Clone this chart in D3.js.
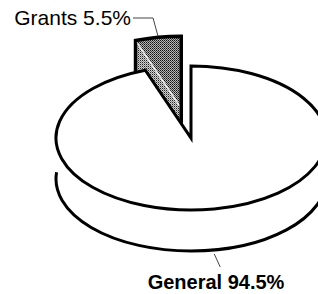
<!DOCTYPE html>
<html>
<head>
<meta charset="utf-8">
<script src="https://cdn.jsdelivr.net/npm/d3@7"></script>
<style>
  body { margin: 0; background: #fff; }
  svg { display: block; }
  text { font-family: "Liberation Sans", Arial, sans-serif; fill: #000; }
</style>
</head>
<body>
<svg></svg>
<script>
// data
var categories = ["Grants", "General"];
var shares = [5.5, 94.5];
var labels = ["Grants 5.5%", "General 94.5%"];

var svgW = 318, svgH = 294;
var svg = d3.select("svg").attr("width", svgW).attr("height", svgH);

// pie geometry (flattened ellipse, with a side wall)
var cx = 191, cy = 138, rx = 135, ry = 72, depth = 41;
var explode = 0.42;

// Grants slice sits just left of the top, General goes round clockwise
var start = -shares[0] / 100 * 2 * Math.PI;
var pie = d3.pie().sort(null).value(function(d) { return d; })
  .startAngle(start).endAngle(start + 2 * Math.PI);
var arcs = pie(shares);

function pt(a, ox, oy) {
  return [cx + ox + rx * Math.sin(a), cy + oy - ry * Math.cos(a)];
}
function P(p) { return p[0] + "," + p[1]; }

// dithered grey fills for the slice
var defs = svg.append("defs");
var pat1 = defs.append("pattern").attr("id", "hatchTop")
  .attr("width", 2).attr("height", 2).attr("patternUnits", "userSpaceOnUse");
pat1.append("rect").attr("width", 2).attr("height", 2).attr("fill", "#b4b4b4");
pat1.append("rect").attr("x", 0).attr("y", 0).attr("width", 1).attr("height", 1).attr("fill", "#111");
pat1.append("rect").attr("x", 1).attr("y", 1).attr("width", 1).attr("height", 1).attr("fill", "#444");

var pat2 = defs.append("pattern").attr("id", "hatchSide")
  .attr("width", 2).attr("height", 2).attr("patternUnits", "userSpaceOnUse");
pat2.append("rect").attr("width", 2).attr("height", 2).attr("fill", "#d0d0d0");
pat2.append("rect").attr("x", 0).attr("y", 0).attr("width", 1).attr("height", 1).attr("fill", "#222");
pat2.append("rect").attr("x", 1).attr("y", 1).attr("width", 1).attr("height", 1).attr("fill", "#888");

var g = arcs[0], m = arcs[1];

// main pie side wall: only the lower rim is drawn
var lowA = Math.PI / 2, lowB = Math.PI * 1.53;
var l1 = pt(lowA, 0, depth), l2 = pt(Math.PI, 0, depth), l3 = pt(lowB, 0, depth);
svg.append("path")
  .attr("d", "M" + P(l1) + "A" + rx + "," + ry + " 0 0 1 " + P(l2) +
             "A" + rx + "," + ry + " 0 0 1 " + P(l3))
  .attr("fill", "none").attr("stroke", "#000").attr("stroke-width", 3);

// exploded Grants slice
var mid = (g.startAngle + g.endAngle) / 2;
var ox = explode * rx * Math.sin(mid), oy = -explode * ry * Math.cos(mid);
var apexT = [cx + ox, cy + oy];
var apexB = [cx + ox, cy + oy + depth];
var leftT = pt(g.startAngle, ox, oy), leftB = pt(g.startAngle, ox, oy + depth);
var rightT = pt(g.endAngle, ox, oy);

svg.append("path")
  .attr("d", "M" + P(apexT) + "L" + P(leftT) + "L" + P(leftB) + "L" + P(apexB) + "Z")
  .attr("fill", "url(#hatchSide)");
svg.append("path")
  .attr("d", "M" + P(apexT) + "L" + P(leftT) +
             "A" + rx + "," + ry + " 0 0 1 " + P(rightT) + "Z")
  .attr("fill", "url(#hatchTop)");
// dark strip down the right edge of the slice
svg.append("path")
  .attr("d", "M" + P([rightT[0] - 1, rightT[1] + 20]) + "L" + P(apexB) +
             "L" + P([rightT[0] + 1.5, rightT[1]]) + "Z")
  .attr("fill", "#000");
svg.append("line")
  .attr("x1", apexT[0]).attr("y1", apexT[1]).attr("x2", leftT[0]).attr("y2", leftT[1])
  .attr("stroke", "#eee").attr("stroke-width", 1.5);
svg.append("path")
  .attr("d", "M" + P(leftB) + "L" + P(leftT) +
             "A" + rx + "," + ry + " 0 0 1 " + P(rightT) + "L" + P(apexB))
  .attr("fill", "none").attr("stroke", "#000").attr("stroke-width", 3.5)
  .attr("stroke-linejoin", "miter");

// main pie top face (General), covers the lower part of the slice
var mA = pt(m.startAngle, 0, 0), mB = pt(m.endAngle, 0, 0);
svg.append("path")
  .attr("d", "M" + cx + "," + cy + "L" + P(mA) +
             "A" + rx + "," + ry + " 0 1 1 " + P(mB) + "Z")
  .attr("fill", "#fff").attr("stroke", "#000").attr("stroke-width", 3)
  .attr("stroke-linejoin", "miter");

// Grants label with leader
var gOut = pt(mid, ox, oy);
svg.append("polyline")
  .attr("points", [[gOut[0], gOut[1] - 1], [gOut[0] - 5, 18], [133, 18]].map(P).join(" "))
  .attr("fill", "none").attr("stroke", "#444").attr("stroke-width", 1);
svg.append("text")
  .attr("x", 131).attr("y", 25)
  .attr("text-anchor", "end")
  .style("font-size", "21px")
  .text(labels[0]);

// General label with leader
var mMid = (m.startAngle + m.endAngle) / 2;
var mOut = pt(mMid, 0, depth);
svg.append("line")
  .attr("x1", mOut[0]).attr("y1", mOut[1] + 4)
  .attr("x2", mOut[0] + 6).attr("y2", mOut[1] + 17)
  .attr("stroke", "#444").attr("stroke-width", 1);
svg.append("text")
  .attr("x", 216).attr("y", 289)
  .attr("text-anchor", "middle")
  .style("font-size", "20px").style("font-weight", "bold")
  .text(labels[1]);
</script>
</body>
</html>
